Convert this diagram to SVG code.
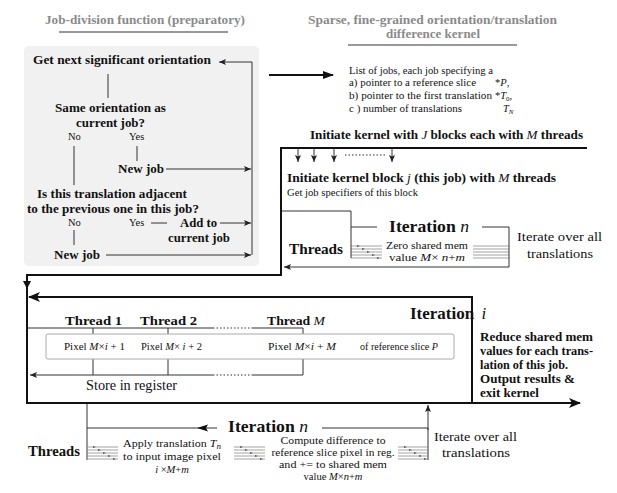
<svg xmlns="http://www.w3.org/2000/svg" width="617" height="493" viewBox="0 0 617 493" font-family="'Liberation Serif', 'DejaVu Serif', serif">
<style>
text{font-family:'Liberation Serif','DejaVu Serif',serif;fill:#111}
.b{font-weight:bold}
.ttl{font-weight:bold;fill:#8a8a8a;font-size:13px}
.h{font-weight:bold;font-size:13px}
.big{font-weight:bold;font-size:17px}
.s{font-size:10.5px}
.xs{font-size:10px}
.m{font-size:10.5px}
.r{font-size:13.5px}
.rb{font-weight:bold;font-size:11.5px}
.i{font-style:italic}
.thick{fill:none;stroke:#111;stroke-width:2}
.thin{fill:none;stroke:#333;stroke-width:1}
.dot{fill:none;stroke:#333;stroke-width:1;stroke-dasharray:1.5 2}
.hl{stroke:#8a8a8a;stroke-width:0.8}
</style>
<defs>
<marker id="ab" viewBox="0 0 12 10" refX="11" refY="5" markerWidth="12" markerHeight="10" orient="auto" markerUnits="userSpaceOnUse"><path d="M0,0 L12,5 L0,10 L3,5 Z" fill="#111"/></marker>
<marker id="af" viewBox="0 0 11 8" refX="10" refY="4" markerWidth="11" markerHeight="8" orient="auto" markerUnits="userSpaceOnUse"><path d="M0,0 L11,4 L0,8 Z" fill="#111"/></marker>
<marker id="as" viewBox="0 0 7 6" refX="7" refY="3" markerWidth="7" markerHeight="6" orient="auto" markerUnits="userSpaceOnUse"><path d="M0,0 L7,3 L0,6 L1.5,3 Z" fill="#222"/></marker>
<g id="hatchA">
<line class="hl" x1="0" y1="0" x2="31" y2="0"/><line class="hl" x1="0" y1="3" x2="31" y2="3"/><line class="hl" x1="0" y1="6" x2="31" y2="6"/><line class="hl" x1="0" y1="9" x2="31" y2="9"/><line class="hl" x1="0" y1="12" x2="31" y2="12"/>
<path d="M6,-1 l3,1 l-3,1 Z M11,2 l3,1 l-3,1 Z M16,5 l3,1 l-3,1 Z M21,8 l3,1 l-3,1 Z M26,11 l3,1 l-3,1 Z" fill="#555"/>
</g>
<g id="hatchB">
<line class="hl" x1="0" y1="0" x2="36" y2="0"/><line class="hl" x1="0" y1="3" x2="36" y2="3"/><line class="hl" x1="0" y1="6" x2="36" y2="6"/><line class="hl" x1="0" y1="9" x2="36" y2="9"/><line class="hl" x1="0" y1="12" x2="36" y2="12"/>
</g>
</defs>

<g id="titles">
<text class="ttl" x="45" y="24" textLength="200" lengthAdjust="spacingAndGlyphs">Job-division function (preparatory)</text>
<line x1="59" y1="32" x2="228" y2="32" stroke="#777" stroke-width="1.5"/>
<text class="ttl" x="308" y="24" textLength="249" lengthAdjust="spacingAndGlyphs">Sparse, fine-grained orientation/translation</text>
<text class="ttl" x="386" y="38" textLength="94" lengthAdjust="spacingAndGlyphs">difference kernel</text>
<line x1="348" y1="45" x2="517" y2="45" stroke="#777" stroke-width="1.5"/>
</g>

<g id="job-division">
<rect x="24" y="46" width="235" height="220" rx="5" fill="#f1f1f1"/>
<text class="h" x="33" y="64" textLength="178" lengthAdjust="spacingAndGlyphs">Get next significant orientation</text>
<text class="h" x="55" y="112" textLength="111" lengthAdjust="spacingAndGlyphs">Same orientation as</text>
<text class="h" x="76" y="127" textLength="69" lengthAdjust="spacingAndGlyphs">current job?</text>
<text class="s" x="68" y="140">No</text>
<text class="s" x="129" y="140">Yes</text>
<text class="h" x="118" y="173" textLength="46" lengthAdjust="spacingAndGlyphs">New job</text>
<text class="h" x="37" y="198" textLength="150" lengthAdjust="spacingAndGlyphs">Is this translation adjacent</text>
<text class="h" x="27" y="213" textLength="172" lengthAdjust="spacingAndGlyphs">to the previous one in this job?</text>
<text class="s" x="68" y="226">No</text>
<text class="s" x="129" y="226">Yes</text>
<text class="h" x="180" y="227" textLength="37" lengthAdjust="spacingAndGlyphs">Add to</text>
<text class="h" x="168" y="242" textLength="62" lengthAdjust="spacingAndGlyphs">current job</text>
<text class="h" x="54" y="259" textLength="46" lengthAdjust="spacingAndGlyphs">New job</text>
</g>

<g id="job-list">
<text class="s" x="349" y="74" textLength="144" lengthAdjust="spacingAndGlyphs">List of jobs, each job specifying a</text>
<text class="s" x="349" y="86" textLength="127" lengthAdjust="spacingAndGlyphs">a) pointer to a reference slice</text>
<text class="s" x="495" y="86">*<tspan class="i">P</tspan>,</text>
<text class="s" x="349" y="99" textLength="143" lengthAdjust="spacingAndGlyphs">b) pointer to the first translation</text>
<text class="s" x="495" y="99">*<tspan class="i">T</tspan><tspan font-size="7" dy="2">0</tspan><tspan dy="-2">,</tspan></text>
<text class="s" x="349" y="112" textLength="113" lengthAdjust="spacingAndGlyphs">c ) number of translations</text>
<text class="s" x="503" y="112"><tspan class="i">T</tspan><tspan class="i" font-size="7" dy="2">N</tspan></text>
</g>

<g id="kernel">
<text class="b" font-size="13" x="310" y="139" textLength="273" lengthAdjust="spacingAndGlyphs">Initiate kernel with <tspan class="i" font-weight="normal">J</tspan>  blocks each with <tspan class="i" font-weight="normal">M</tspan> threads</text>
<text class="b" font-size="12" x="287" y="182" textLength="269" lengthAdjust="spacingAndGlyphs">Initiate kernel block  <tspan class="i" font-weight="normal">j</tspan>  (this job) with <tspan class="i" font-weight="normal">M</tspan> threads</text>
<text class="s" x="287" y="196" textLength="131" lengthAdjust="spacingAndGlyphs">Get job specifiers of this block</text>
<text class="b" font-size="14" x="289" y="254" textLength="54" lengthAdjust="spacingAndGlyphs">Threads</text>
<text class="big" x="389" y="232" textLength="80" lengthAdjust="spacingAndGlyphs">Iteration <tspan class="i" font-weight="normal">n</tspan></text>
<text class="m" x="427" y="249" text-anchor="middle" textLength="82" lengthAdjust="spacingAndGlyphs">Zero shared mem</text>
<text class="m" x="427" y="261" text-anchor="middle" textLength="76" lengthAdjust="spacingAndGlyphs">value <tspan class="i">M</tspan>× <tspan class="i">n</tspan>+<tspan class="i">m</tspan></text>
<text class="r" x="517" y="241" textLength="85" lengthAdjust="spacingAndGlyphs">Iterate over all</text>
<text class="r" x="527" y="258" textLength="66" lengthAdjust="spacingAndGlyphs">translations</text>
<use href="#hatchA" x="351" y="246"/>
<use href="#hatchB" x="473" y="246"/>
</g>

<g id="iteration-i">
<text class="big" x="410" y="319">Iteration <tspan class="i" font-weight="normal" dx="3">i</tspan></text>
<text class="h" x="65" y="325" textLength="57" lengthAdjust="spacingAndGlyphs">Thread 1</text>
<text class="h" x="140" y="325" textLength="57" lengthAdjust="spacingAndGlyphs">Thread 2</text>
<text class="h" x="267" y="325" textLength="58" lengthAdjust="spacingAndGlyphs">Thread <tspan class="i" font-weight="normal">M</tspan></text>
<text class="rb" x="480" y="341" textLength="113" lengthAdjust="spacingAndGlyphs">Reduce shared mem</text>
<text class="rb" x="480" y="355" textLength="113" lengthAdjust="spacingAndGlyphs">values for each trans-</text>
<text class="rb" x="480" y="369" textLength="88" lengthAdjust="spacingAndGlyphs">lation of this job.</text>
<text class="rb" x="480" y="383" textLength="95" lengthAdjust="spacingAndGlyphs">Output results &amp;</text>
<text class="rb" x="480" y="397" textLength="59" lengthAdjust="spacingAndGlyphs">exit kernel</text>
<text font-size="14" x="86" y="390" textLength="91" lengthAdjust="spacingAndGlyphs">Store in register</text>
</g>

<g id="connectors">
<path d="M252,62 V255" class="thin" stroke="#222"/>
<line x1="252" y1="62" x2="219" y2="62" class="thin" marker-end="url(#as)"/>
<line x1="106" y1="255" x2="251" y2="255" class="thin" marker-end="url(#as)"/>
<line x1="166" y1="169" x2="251" y2="169" class="thin" marker-end="url(#as)"/>
<line x1="220" y1="223" x2="251" y2="223" class="thin" marker-end="url(#as)"/>
<line x1="151" y1="223" x2="167" y2="223" class="thin"/>
<line x1="108" y1="74" x2="108" y2="98" class="thin"/>
<line x1="137" y1="146" x2="137" y2="161" class="thin"/>
<line x1="74" y1="146" x2="74" y2="185" class="thin"/>
<line x1="74" y1="230" x2="74" y2="245" class="thin"/>

<line x1="269" y1="75" x2="333" y2="75" class="thick" marker-end="url(#af)"/>

<path d="M587,148 H281 V275 H27 V403 H580" class="thick" marker-end="url(#ab)"/>
<path d="M23,281 L27,289 L31,281 Z" fill="#111"/>
<line x1="298" y1="148" x2="298" y2="162" class="thin" marker-end="url(#as)"/>
<line x1="314" y1="148" x2="314" y2="162" class="thin" marker-end="url(#as)"/>
<line x1="334" y1="148" x2="334" y2="162" class="thin" marker-end="url(#as)"/>
<line x1="392" y1="148" x2="392" y2="162" class="thin" marker-end="url(#as)"/>
<line x1="345" y1="155" x2="386" y2="155" class="dot"/>

<path d="M282,211 H351 V258" class="thin"/>
<path d="M351,227 H377 M482,227 H509 V267 H284" class="thin" marker-end="url(#as)"/>

<path d="M472,403 V297 H29" class="thick" marker-end="url(#ab)"/>

<line x1="28" y1="328" x2="213" y2="328" class="thin"/>
<line x1="213" y1="328" x2="253" y2="328" class="dot"/>
<line x1="253" y1="328" x2="303" y2="328" class="thin"/>
<line x1="93" y1="328" x2="93" y2="375" class="thin"/>
<line x1="168" y1="328" x2="168" y2="375" class="thin"/>
<line x1="303" y1="328" x2="303" y2="375" class="thin"/>
<line x1="303" y1="375" x2="253" y2="375" class="thin"/>
<line x1="253" y1="375" x2="213" y2="375" class="dot"/>
<line x1="213" y1="375" x2="30" y2="375" class="thin" marker-end="url(#as)"/>

<line x1="87" y1="404" x2="87" y2="460" class="thin"/>
<line x1="87" y1="428" x2="217" y2="428" class="thin"/>
<path d="M197,428 L208,424.5 L206,428 L208,431.5 Z" fill="#111"/>
<path d="M322,428 H428 V460" class="thin"/>
<line x1="428" y1="430" x2="428" y2="405" class="thin" marker-end="url(#as)"/>
</g>

<g id="pixel-row">
<rect x="46" y="334" width="408" height="25" rx="2" fill="#fff" stroke="#aaa" stroke-width="1"/>
<text class="xs" x="64" y="350" textLength="61" lengthAdjust="spacingAndGlyphs">Pixel <tspan class="i">M</tspan>×<tspan class="i">i</tspan> + 1</text>
<text class="xs" x="141" y="350" textLength="61" lengthAdjust="spacingAndGlyphs">Pixel <tspan class="i">M</tspan>× <tspan class="i">i</tspan> + 2</text>
<text class="xs" x="268" y="350" textLength="68" lengthAdjust="spacingAndGlyphs">Pixel <tspan class="i">M</tspan>×<tspan class="i">i</tspan> + <tspan class="i">M</tspan></text>
<text class="xs" x="360" y="350" textLength="78" lengthAdjust="spacingAndGlyphs">of reference slice <tspan class="i">P</tspan></text>
</g>

<g id="bottom-iteration">
<text class="big" x="228" y="432" textLength="80" lengthAdjust="spacingAndGlyphs">Iteration <tspan class="i" font-weight="normal">n</tspan></text>
<text class="b" font-size="14" x="28" y="456" textLength="52" lengthAdjust="spacingAndGlyphs">Threads</text>
<use href="#hatchA" x="87" y="447"/>
<use href="#hatchA" x="234" y="447"/>
<use href="#hatchA" x="398" y="447"/>
<text class="m" font-size="11" x="172" y="447" text-anchor="middle" textLength="98" lengthAdjust="spacingAndGlyphs">Apply translation <tspan class="i">T</tspan><tspan class="i" font-size="8" dy="2">n</tspan></text>
<text class="m" font-size="11" x="172" y="460" text-anchor="middle" textLength="98" lengthAdjust="spacingAndGlyphs">to input image pixel</text>
<text class="m" font-size="11" x="172" y="473" text-anchor="middle"><tspan class="i">i</tspan> ×<tspan class="i">M</tspan>+<tspan class="i">m</tspan></text>
<text class="m" x="333" y="444" text-anchor="middle" textLength="105" lengthAdjust="spacingAndGlyphs">Compute difference to</text>
<text class="m" x="333" y="456" text-anchor="middle" textLength="123" lengthAdjust="spacingAndGlyphs">reference slice pixel in reg.</text>
<text class="m" x="333" y="468" text-anchor="middle" textLength="108" lengthAdjust="spacingAndGlyphs">and += to shared mem</text>
<text class="m" x="333" y="480" text-anchor="middle">value  <tspan class="i">M</tspan>×<tspan class="i">n</tspan>+<tspan class="i">m</tspan></text>
<text class="r" x="434" y="441" textLength="83" lengthAdjust="spacingAndGlyphs">Iterate over all</text>
<text class="r" x="442" y="457" textLength="68" lengthAdjust="spacingAndGlyphs">translations</text>
</g>
</svg>
